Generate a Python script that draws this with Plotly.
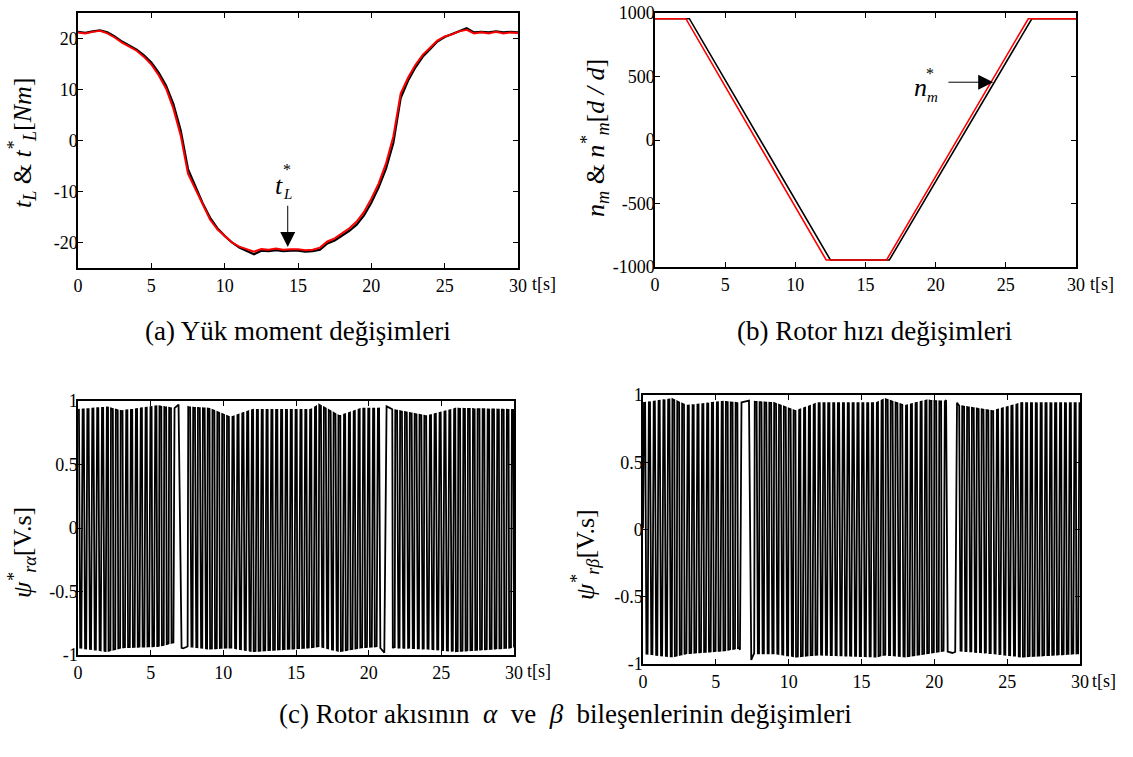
import numpy as np
import plotly.graph_objects as go

W, H = 1133, 757
FONT = "Liberation Serif"

# ---------------- (a) load torque ----------------
t_a = [0, 0.5, 1.0, 1.5, 2.0, 2.5, 3.0, 3.5, 4.0, 4.5, 5.0, 5.5, 6.0, 6.5, 7.0, 7.5,
       8.0, 8.5, 9.0, 9.5, 10.0, 10.5, 11.0, 11.5, 12.0, 12.5, 13.0, 13.5, 14.0, 14.5,
       15.0, 15.5, 16.0, 16.5, 17.0, 17.5, 18.0, 18.5, 19.0, 19.5, 20.0, 20.5, 21.0,
       21.5, 22.0, 22.5, 23.0, 23.5, 24.0, 24.5, 25.0, 25.5, 26.0, 26.5, 27.0, 27.5,
       28.0, 28.5, 29.0, 29.5, 30.0]
tl_ref = [21.2, 21.0, 21.3, 21.5, 21.0, 20.2, 19.2, 18.4, 17.6, 16.4, 14.9, 12.8, 10.2,
          6.3, 1.0, -6.5, -9.5, -12.8, -15.5, -17.4, -18.8, -20.0, -20.8, -21.3, -21.8,
          -21.3, -21.4, -21.2, -21.4, -21.3, -21.3, -21.5, -21.4, -21.0, -19.8, -19.2,
          -18.2, -17.2, -15.9, -14.0, -11.4, -8.4, -4.5, 0.8, 9.2, 12.3, 14.8, 16.8, 18.2,
          19.6, 20.4, 20.8, 21.4, 21.7, 21.0, 21.2, 21.0, 21.3, 21.0, 21.2, 21.1]
tl_est = [21.3, 21.1, 21.4, 21.6, 21.2, 20.4, 19.4, 18.6, 17.8, 16.7, 15.3, 13.3, 10.8,
          7.2, 2.0, -5.6, -9.0, -12.3, -15.1, -17.2, -18.7, -20.0, -21.0, -21.7, -22.3,
          -21.6, -21.7, -21.5, -21.7, -21.6, -21.6, -21.8, -21.7, -21.4, -20.2, -19.6,
          -18.6, -17.7, -16.5, -14.7, -12.2, -9.2, -5.5, -0.5, 8.3, 11.7, 14.3, 16.4, 17.9,
          19.4, 20.3, 20.9, 21.5, 22.0, 21.2, 21.3, 21.2, 21.4, 21.2, 21.3, 21.2]

# ---------------- (b) rotor speed ----------------
t_n_ref = [0, 2.2, 12.2, 16.5, 26.6, 30]
n_ref = [955, 955, -945, -945, 955, 955]
t_n_est = [0, 2.45, 12.5, 16.7, 26.85, 30]
n_est = [955, 955, -945, -945, 955, 955]

# ---------------- (c) rotor flux components ----------------
# apparent oscillation frequency of the drawn trace (Hz), slow near zero speed
f_knot_t = [0, 6.6, 6.75, 7.45, 7.6, 20.75, 20.9, 21.5, 21.65, 30]
f_knot_v = [3.0, 3.0, 0.7, 0.7, 3.0, 3.0, 0.7, 0.7, 3.0, 3.0]
# envelopes
env_t = [0, 2.0, 3.0, 5.5, 6.6, 7.2, 7.6, 9.0, 10.5, 12.0, 16.0, 16.6, 18.0, 19.5,
         20.7, 21.2, 21.7, 24.0, 26.0, 30]
a_top = [0.93, 0.95, 0.92, 0.96, 0.94, 1.0, 0.95, 0.94, 0.87, 0.93, 0.93, 0.97, 0.88,
         0.94, 0.94, 0.96, 0.93, 0.88, 0.94, 0.93]
a_bot = [-0.94, -0.97, -0.94, -0.93, -0.9, -0.95, -0.93, -0.95, -0.94, -0.97, -0.94,
         -0.93, -0.97, -0.94, -0.93, -1.0, -0.94, -0.95, -0.97, -0.94]
b_top = [0.94, 0.97, 0.92, 0.95, 0.94, 0.96, 0.95, 0.94, 0.88, 0.94, 0.94, 0.97, 0.92,
         0.96, 0.95, 1.0, 0.92, 0.88, 0.94, 0.94]
b_bot = [-0.92, -0.945, -0.92, -0.9, -0.88, -1.04, -0.92, -0.92, -0.945, -0.93, -0.945,
         -0.93, -0.945, -0.92, -0.9, -0.92, -0.9, -0.92, -0.945, -0.92]

flux_t = np.arange(0, 30.0001, 0.002)
freq = np.interp(flux_t, f_knot_t, f_knot_v)
phase = 2 * np.pi * np.concatenate([[0], np.cumsum(0.5 * (freq[1:] + freq[:-1]) * np.diff(flux_t))])
def comp(top, bot, wave):
    tp = np.interp(flux_t, env_t, top)
    bt = np.interp(flux_t, env_t, bot)
    w = np.clip(3.0 * wave, -1, 1)
    return (tp + bt) / 2 + (tp - bt) / 2 * w
psi_a = comp(a_top, a_bot, np.cos(phase))
psi_b = comp(b_top, b_bot, np.sin(phase))

x_ticks = [0, 5, 10, 15, 20, 25, 30]

# ---------------- figure ----------------
def px(x):
    return x / W
def py(y):
    return 1 - y / H

fig = go.Figure()
fig.add_trace(go.Scatter(x=t_a, y=tl_est, mode="lines", line=dict(color="black", width=2.2),
                         xaxis="x", yaxis="y", showlegend=False))
fig.add_trace(go.Scatter(x=t_a, y=tl_ref, mode="lines", line=dict(color="#ff0000", width=2),
                         xaxis="x", yaxis="y", showlegend=False))
fig.add_trace(go.Scatter(x=t_n_est, y=n_est, mode="lines", line=dict(color="black", width=1.6),
                         xaxis="x2", yaxis="y2", showlegend=False))
fig.add_trace(go.Scatter(x=t_n_ref, y=n_ref, mode="lines", line=dict(color="#ff0000", width=1.6),
                         xaxis="x2", yaxis="y2", showlegend=False))
fig.add_trace(go.Scatter(x=flux_t, y=psi_a, mode="lines", line=dict(color="black", width=1.8),
                         xaxis="x3", yaxis="y3", showlegend=False))
fig.add_trace(go.Scatter(x=flux_t, y=psi_b, mode="lines", line=dict(color="black", width=1.8),
                         xaxis="x4", yaxis="y4", showlegend=False))

def ax(domain, rng, tickvals, ticktext, anchor, xaxis):
    d = dict(domain=domain, range=rng, tickvals=tickvals, ticktext=ticktext, anchor=anchor,
             showline=True, linecolor="black", linewidth=1.5, mirror="ticks",
             ticks="inside", ticklen=5, tickwidth=1, tickcolor="black",
             showgrid=False, zeroline=False, automargin=False,
             ticklabeloverflow="allow",
             tickfont=dict(family=FONT, size=18, color="black"))
    d["ticklabelstandoff"] = 1 if xaxis else -5
    return d

xt = [str(v) for v in x_ticks]
fig.update_layout(
    template="none",
    width=W, height=H, margin=dict(l=0, r=0, t=0, b=0, pad=0), autosize=False,
    paper_bgcolor="white", plot_bgcolor="white",
    font=dict(family=FONT, color="black"),
    xaxis=ax([px(78), px(518)], [0, 30], x_ticks, xt, "y", True),
    yaxis=ax([py(268), py(13)], [-25, 25], [-20, -10, 0, 10, 20],
             ["-20", "-10", "0", "10", "20"], "x", False),
    xaxis2=ax([px(655), px(1076)], [0, 30], x_ticks, xt, "y2", True),
    yaxis2=ax([py(267), py(13)], [-1000, 1000], [-1000, -500, 0, 500, 1000],
              ["-1000", "-500", "0", "500", "1000"], "x2", False),
    xaxis3=ax([px(78), px(514)], [0, 30], x_ticks, xt, "y3", True),
    yaxis3=ax([py(655), py(401)], [-1, 1], [-1, -0.5, 0, 0.5, 1],
              ["-1", "-0.5", "0", "0.5", "1"], "x3", False),
    xaxis4=ax([px(643), px(1080)], [0, 30], x_ticks, xt, "y4", True),
    yaxis4=ax([py(664), py(395)], [-1, 1], [-1, -0.5, 0, 0.5, 1],
              ["-1", "-0.5", "0", "0.5", "1"], "x4", False),
)

ann = []
def txt(x, y, s, size, angle=0, xanchor="center"):
    ann.append(dict(x=px(x), y=py(y), xref="paper", yref="paper", text=s, showarrow=False,
                    textangle=angle, xanchor=xanchor, yanchor="middle",
                    font=dict(family=FONT, size=size, color="black")))

# axis unit labels
txt(530, 284, "t[s]", 18, xanchor="left")
txt(1088, 284, "t[s]", 18, xanchor="left")
txt(525, 671, "t[s]", 18, xanchor="left")
txt(1090, 681, "t[s]", 18, xanchor="left")

# y titles
txt(22, 143, "<i>t<sub>L</sub></i> & <i>t<sup>*</sup><sub>L</sub></i>[<i>Nm</i>]", 26, -90)
txt(595, 138, "<i>n<sub>m</sub></i> & <i>n<sup>*</sup><sub>m</sub></i>[<i>d / d</i>]", 26, -90)
txt(22, 552, "<i>ψ<sup>*</sup><sub>rα</sub></i>[V.s]", 26, -90)
txt(585, 555, "<i>ψ<sup>*</sup><sub>rβ</sub></i>[V.s]", 26, -90)

# captions
txt(298, 331, "(a) Yük moment değişimleri", 27)
txt(874, 331, "(b) Rotor hızı değişimleri", 27)
txt(565, 714, "(c) Rotor akısının&nbsp; <i>α</i>&nbsp; ve&nbsp; <i>β</i>&nbsp; bileşenlerinin değişimleri", 27)

# in-plot labels
txt(279, 185, "<i>t</i>", 26)
txt(287, 170, "*", 16)
txt(287, 194, "<i>L</i>", 15)
txt(920, 88, "<i>n</i>", 26)
txt(930, 73, "*", 16)
txt(932, 97, "<i>m</i>", 15)

# arrows
ann.append(dict(x=14.3, y=-20.9, ax=14.3, ay=-12.5, xref="x", yref="y", axref="x", ayref="y",
                text="", showarrow=True, arrowhead=2, arrowsize=3, arrowwidth=1,
                arrowcolor="black"))
ann.append(dict(x=24.1, y=455, ax=20.8, ay=455, xref="x2", yref="y2", axref="x2", ayref="y2",
                text="", showarrow=True, arrowhead=2, arrowsize=3, arrowwidth=1,
                arrowcolor="black"))
fig.update_layout(annotations=ann)

# remove the default 8px page margin so the figure fills the window exactly
fig.write_html("out.html", config={"displayModeBar": False},
               post_script="document.body.style.margin='0';document.body.style.overflow='hidden';")
